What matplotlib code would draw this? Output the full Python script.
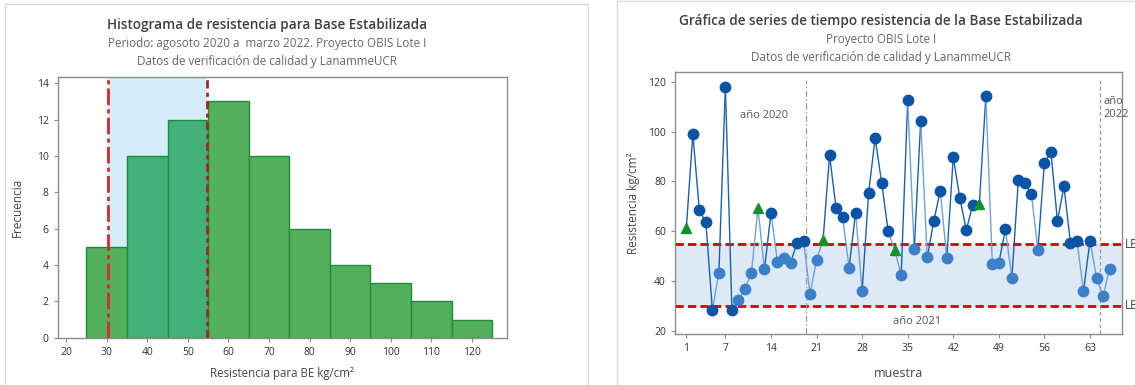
import numpy as np
import matplotlib
matplotlib.use("Agg")
import matplotlib.pyplot as plt
from matplotlib.patches import Rectangle

plt.rcParams['font.family'] = ['Open Sans', 'DejaVu Sans']

# Resistance of stabilised base, one value per sample (kg/cm2)
muestra = list(range(1, 67))
resistencia = [
    61.3, 99.0, 68.5, 63.6, 28.4, 43.4, 118.1, 28.4, 32.4, 36.8,
    43.4, 69.3, 44.8, 67.3, 47.7, 49.1, 47.4, 55.2, 56.1, 34.8,
    48.6, 56.5, 90.5, 69.3, 65.6, 45.4, 67.5, 36.0, 75.5, 97.4,
    79.5, 60.1, 52.5, 42.6, 112.5, 52.8, 104.4, 49.5, 64.0, 76.3,
    49.1, 89.8, 73.5, 60.5, 70.7, 70.8, 114.1, 46.9, 47.3, 60.8,
    41.4, 80.7, 79.5, 74.8, 52.6, 87.6, 91.9, 64.1, 78.0, 55.4,
    56.2, 36.0, 56.2, 41.4, 34.0, 44.8,
]
# samples shown with a triangle
muestras_triangulo = [1, 12, 22, 33, 46]

# specification limits
LEI = 30.2
LES = 54.8

# histogram bins
bordes = list(range(25, 126, 10))

# year separators (between samples)
corte_2021 = 19.35
corte_2022 = 64.6

W, H = 1135, 385
fig = plt.figure(figsize=(W / 100, H / 100), dpi=100)

# panel frames
fig.patches.append(Rectangle((5 / W, -0.1), (588 - 5) / W, 1.1 - 4 / H,
                             transform=fig.transFigure, fill=False,
                             edgecolor='#d9d9d9', lw=1))
fig.patches.append(Rectangle((617 / W, -0.1), 1.0, 1.1 - 1 / H,
                             transform=fig.transFigure, fill=False,
                             edgecolor='#d9d9d9', lw=1))

def px_axes(l, r, t, b):
    return fig.add_axes([l / W, (H - b) / H, (r - l) / W, (b - t) / H])

TXT = '#333333'
SUB = '#666666'
SPINE = '#8c8c8c'

def style_axes(ax):
    for s in ax.spines.values():
        s.set_color(SPINE)
        s.set_linewidth(1)
    ax.tick_params(axis='both', colors=SPINE, labelcolor=TXT,
                   labelsize=7.5, length=3, width=0.8)

# ---------------- Histogram ----------------
ax1 = px_axes(57.7, 506.7, 77.3, 337.7)
conteos, _ = np.histogram(resistencia, bins=bordes)
centros = [(bordes[i] + bordes[i + 1]) / 2 for i in range(len(conteos))]
colores = ['#42b077' if LEI <= c <= LES else '#53b05a' for c in centros]
ax1.axvspan(LEI, LES, color='#d3eefa', zorder=0, lw=0)
ax1.bar(centros, conteos, width=10, color=colores, edgecolor='#1e8a3c',
        linewidth=1, zorder=2)
ax1.axvline(LEI, color='#d42a2a', lw=2, ls=(0, (6, 1.5, 1.5, 1.5)), zorder=3)
ax1.axvline(LES, color='#a3262f', lw=2, ls=(0, (3, 1.5, 1.5, 1.5)), zorder=3)
ax1.set_xlim(17.9, 128.6)
ax1.set_ylim(0, 14.33)
ax1.set_xticks(range(20, 121, 10))
ax1.set_yticks(range(0, 15, 2))
style_axes(ax1)
ax1.set_xlabel('Resistencia para BE kg/cm²', fontsize=8.3, color='#444444',
               labelpad=7)
ax1.set_ylabel('Frecuencia', fontsize=8.5, color='#444444', labelpad=9)

fig.text(267 / W, 1 - 25 / H, 'Histograma de resistencia para Base Estabilizada',
         ha='center', va='center', fontsize=9.8, fontweight='semibold',
         color='#404040')
fig.text(267 / W, 1 - 43 / H,
         'Periodo: agosoto 2020 a  marzo 2022. Proyecto OBIS Lote I',
         ha='center', va='center', fontsize=8.4, color=SUB)
fig.text(267 / W, 1 - 61 / H, 'Datos de verificación de calidad y LanammeUCR',
         ha='center', va='center', fontsize=8.4, color=SUB)

# ---------------- Time series ----------------
ax2 = px_axes(675, 1121.7, 72.3, 334)
ax2.axhspan(LEI, LES, color='#dde9f5', zorder=0, lw=0)
ax2.axhline(LES, color='#d40000', lw=2, ls=(0, (3, 1.5)), zorder=1)
ax2.axhline(LEI, color='#d40000', lw=2, ls=(0, (3, 1.5)), zorder=1)
ax2.axvline(corte_2021, ymin=0, ymax=0.97, color='#9a9a9a', lw=0.9,
            ls=(0, (5, 2, 1, 2)), zorder=1)
ax2.axvline(corte_2022, ymin=0, ymax=0.97, color='#9a9a9a', lw=0.9,
            ls=(0, (3, 2)), zorder=1)

OSCURO = '#0a54a6'
CLARO = '#3b80c8'
LINEA_OSC = '#1d5fae'
LINEA_CLA = '#6fa2d6'

def fuera(v):
    return v > LES or v < LEI

for i in range(len(muestra) - 1):
    xs = muestra[i:i + 2]
    ys = resistencia[i:i + 2]
    destino = muestra[i + 1]
    oscuro = fuera(resistencia[i + 1]) and destino not in muestras_triangulo
    ax2.plot(xs, ys, color=LINEA_OSC if oscuro else LINEA_CLA, lw=1, zorder=2)

for m, v in zip(muestra, resistencia):
    if m in muestras_triangulo:
        ax2.plot(m, v, marker='^', ms=6.5, color='#16902c', mec='#16902c',
                 zorder=3)
    else:
        ax2.plot(m, v, marker='o', ms=8.5, color=OSCURO if fuera(v) else CLARO,
                 mec='none', zorder=3)

ax2.set_xlim(-0.74, 67.87)
ax2.set_ylim(18.8, 123.8)
ax2.set_xticks([1, 7, 14, 21, 28, 35, 42, 49, 56, 63])
ax2.set_yticks(range(20, 121, 20))
style_axes(ax2)
ax2.set_xlabel('muestra', fontsize=9, color='#444444', labelpad=9)
ax2.set_ylabel('Resistencia kg/cm²', fontsize=8.5, color='#444444', labelpad=6)

ax2.text(12.9, 106.6, 'año 2020', ha='center', va='center', fontsize=8,
         color='#555555')
ax2.text(36.4, 23.7, 'año 2021', ha='center', va='center', fontsize=8,
         color='#555555')
ax2.text(65.0, 109.5, 'año\n2022', ha='left', va='center', fontsize=8,
         color='#555555', linespacing=1.3)
ax2.text(1.008, (LES - 18.8) / (123.8 - 18.8), 'LES', transform=ax2.transAxes,
         ha='left', va='center', fontsize=8.5, color='#444444', clip_on=False)
ax2.text(1.008, (LEI - 18.8) / (123.8 - 18.8), 'LEI', transform=ax2.transAxes,
         ha='left', va='center', fontsize=8.5, color='#444444', clip_on=False)

fig.text(881 / W, 1 - 21 / H,
         'Gráfica de series de tiempo resistencia de la Base Estabilizada',
         ha='center', va='center', fontsize=9.85, fontweight='semibold',
         color='#404040')
fig.text(881 / W, 1 - 39 / H, 'Proyecto OBIS Lote I', ha='center',
         va='center', fontsize=8.4, color=SUB)
fig.text(881 / W, 1 - 57 / H, 'Datos de verificación de calidad y LanammeUCR',
         ha='center', va='center', fontsize=8.4, color=SUB)

fig.savefig('out.png', dpi=100)
